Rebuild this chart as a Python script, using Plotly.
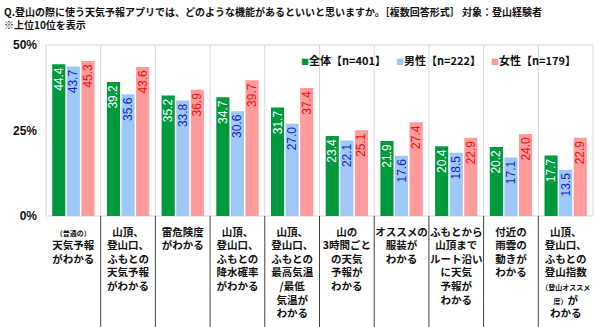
import plotly.graph_objects as go

categories = [
    "<span style='font-size:7px'>（普通の）</span><br>天気予報<br>がわかる",
    "山頂、<br>登山口、<br>ふもとの<br>天気予報<br>がわかる",
    "雷危険度<br>がわかる",
    "山頂、<br>登山口、<br>ふもとの<br>降水確率<br>がわかる",
    "山頂、<br>登山口、<br>ふもとの<br>最高気温<br>/最低<br>気温が<br>わかる",
    "山の<br>3時間ごと<br>の天気<br>予報が<br>わかる",
    "オススメの<br>服装が<br>わかる",
    "ふもとから<br>山頂まで<br>ルート沿い<br>に天気<br>予報が<br>わかる",
    "付近の<br>雨雲の<br>動きが<br>わかる",
    "山頂、<br>登山口、<br>ふもとの<br>登山指数<br><span style='font-size:7px'>（登山オススメ</span><br><span style='font-size:7px'>度）</span>が<br>わかる",
]
series_names = ["全体【n=401】", "男性【n=222】", "女性【n=179】"]
total = [44.4, 39.2, 35.2, 34.7, 31.7, 23.4, 21.9, 20.4, 20.2, 17.7]
male = [43.7, 35.6, 33.8, 30.6, 27.0, 22.1, 17.6, 18.5, 17.1, 13.5]
female = [45.3, 43.6, 36.9, 39.7, 37.4, 25.1, 27.4, 22.9, 24.0, 22.9]
y_ticks = [0, 25, 50]
y_tick_labels = ["0%", "25%", "50%"]

FONT = "Noto Sans CJK JP"
bar_colors = ["#009a3e", "#9ec9f7", "#ff9b9b"]
text_colors = ["#ffffff", "#1a1acc", "#f01010"]

fig = go.Figure()
idx = list(range(len(categories)))
for name, vals, bc, tc in zip(series_names, [total, male, female], bar_colors, text_colors):
    fig.add_trace(go.Bar(
        x=idx, y=vals, name=name,
        marker=dict(color=bc, line=dict(width=0)),
        texttemplate="%{y:.1f}", textposition="inside", textangle=-90,
        insidetextanchor="end",
        textfont=dict(color=tc, size=12, family="Liberation Sans"),
        hoverinfo="skip", showlegend=False,
    ))

shapes = []
for i in range(len(categories) - 1):
    shapes.append(dict(type="line", xref="x", yref="paper", x0=i + 0.5, x1=i + 0.5,
                       y0=0, y1=1, line=dict(color="#d9d9d9", width=1), layer="below"))
    shapes.append(dict(type="line", xref="x", yref="paper", x0=i + 0.5, x1=i + 0.5,
                       y0=0, y1=-0.65, line=dict(color="#404040", width=1), layer="above"))

# legend drawn as a text row (small coloured squares + labels)
legend_text = "&nbsp;&nbsp;&nbsp;&nbsp;".join(
    f"<span style='color:{c};font-size:8px'>■</span>{n}" for n, c in zip(series_names, bar_colors)
)

annotations = [
    dict(text="<b>Q.登山の際に使う天気予報アプリでは、どのような機能があるといいと思いますか。［複数回答形式］ 対象：登山経験者<br>※上位10位を表示</b>",
         xref="paper", yref="paper", x=-44 / 547, y=1 + 44 / 173, xanchor="left", yanchor="top",
         align="left", showarrow=False,
         font=dict(family=FONT, size=10, color="#111111")),
    dict(text="<b>" + legend_text + "</b>", xref="paper", yref="paper",
         x=1 - 15 / 547, y=1 - 15 / 173, xanchor="right", yanchor="middle",
         showarrow=False, font=dict(family=FONT, size=11, color="#111111")),
]

fig.update_layout(
    width=600, height=327,
    margin=dict(l=46, r=7, t=45, b=109),
    paper_bgcolor="white", plot_bgcolor="white",
    barmode="group", bargap=0.2, bargroupgap=0.1,
    uniformtext=dict(minsize=12, mode="show"),
    font=dict(family=FONT, color="#111111"),
    showlegend=False,
    xaxis=dict(
        tickmode="array", tickvals=idx, ticktext=categories, tickangle=0,
        range=[-0.5, len(categories) - 0.5],
        showgrid=False, zeroline=False, showline=False,
        tickfont=dict(family=FONT, size=10.5, weight="bold", color="#111111"),
        ticks="", ticklabelstandoff=8,
    ),
    yaxis=dict(
        range=[0, 50], tickmode="array", tickvals=y_ticks, ticktext=y_tick_labels,
        showgrid=False, zeroline=False, showline=False,
        tickfont=dict(family="Liberation Sans", size=12, weight="bold", color="#111111"),
        ticks="", ticklabelstandoff=8,
    ),
    shapes=shapes + [dict(type="rect", xref="paper", yref="paper", x0=0, x1=1, y0=0, y1=1,
                          line=dict(color="#d9d9d9", width=1), layer="below")],
    annotations=annotations,
)

fig.write_html("out.html")
